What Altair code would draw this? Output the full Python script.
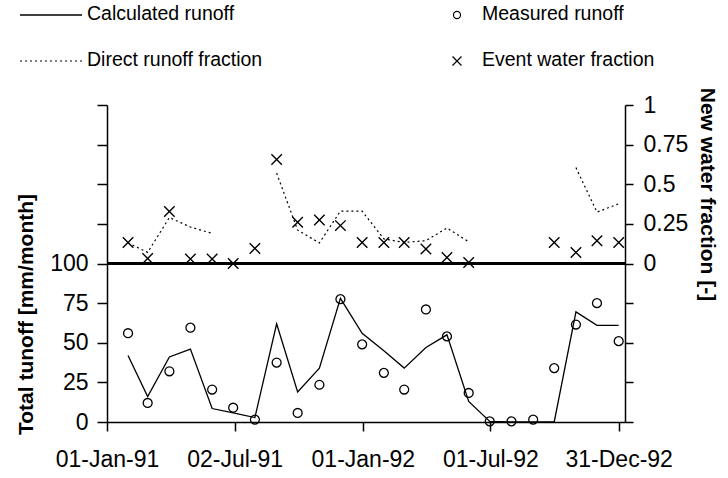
import altair as alt
import pandas as pd

# Month-end dates, Jan 1991 - Dec 1992
months = pd.date_range("1991-01-31", "1992-12-31", freq="ME").strftime("%Y-%m-%d").tolist()

# Total runoff [mm/month]
calculated_runoff = [42, 16, 41, 46, 8.5, 5.7, 2.8, 62, 19, 34, 78, 56,
                     45, 34, 47, 55, 13, 0.4, 0, 0, 0, 69.5, 61, 61]
measured_runoff = [56, 12, 32, 59.5, 20.5, 9, 1.5, 37.5, 5.7, 23.5, 77.5, 49,
                   31, 20.5, 71, 54, 18.3, 0.4, 0.4, 1.5, 34, 61.5, 75, 51]

# New water fractions [-]
direct_runoff_fraction = [0.13, 0.07, 0.29, 0.23, 0.19, None, None, 0.57, 0.21, 0.13, 0.33, 0.33,
                          0.155, 0.133, 0.144, 0.224, 0.137, None, None, None, None, 0.605, 0.324, 0.377]
event_water_fraction = [0.133, 0.032, 0.328, 0.028, 0.028, 0.0, 0.095, 0.656, 0.26, 0.275, 0.239, 0.133,
                        0.133, 0.133, 0.091, 0.038, 0.006, None, None, None, 0.133, 0.07, 0.144, 0.133]

x_ticks = [(1991, 1, 1), (1991, 7, 2), (1992, 1, 1), (1992, 7, 1), (1992, 12, 31)]
runoff_ticks = [0, 25, 50, 75, 100, 125, 150, 175, 200]
fraction_ticks = [-1, -0.75, -0.5, -0.25, 0, 0.25, 0.5, 0.75, 1]

# split the direct runoff series into continuous runs so the line breaks at gaps
segments = []
seg, prev = 0, None
for v in direct_runoff_fraction:
    if v is not None and prev is None:
        seg += 1
    segments.append(seg if v is not None else None)
    prev = v

df = pd.DataFrame({
    "date": months,
    "calc": calculated_runoff,
    "meas": measured_runoff,
    "direct": direct_runoff_fraction,
    "event": event_water_fraction,
    "seg": segments,
})

FONT = "Liberation Sans"
CROSS = "M-1,-1L1,1M-1,1L1,-1"

x_enc = alt.X(
    "date:T",
    scale=alt.Scale(type="utc",
                    domain=[alt.DateTime(year=1991, month=1, date=1, utc=True),
                            alt.DateTime(year=1993, month=1, date=9, utc=True)]),
    axis=alt.Axis(
        title=None,
        values=[alt.DateTime(year=y, month=m, date=d, utc=True) for y, m, d in x_ticks],
        format="%d-%b-%y",
        tickSize=9,
        labelPadding=17,
        labelFontSize=23,
        labelFlush=False,
        labelOverlap=False,
    ),
)

runoff_scale = alt.Scale(domain=[0, 200], nice=False, zero=False)
left_axis = alt.Axis(
    title="Total tunoff [mm/month]",
    values=runoff_ticks,
    labelExpr="datum.value <= 100 ? datum.label : ''",
    labelOverlap=False,
    tickSize=10,
    labelPadding=9,
    titleAngle=-90,
    titleX=-81,
    titleY=209,
    titleAlign="center",
    titleBaseline="middle",
)

fraction_scale = alt.Scale(domain=[-1, 1], nice=False, zero=False)
right_axis = alt.Axis(
    title="New water fraction [-]",
    orient="right",
    values=fraction_ticks,
    labelExpr="datum.value >= 0 ? format(datum.value, '~g') : ''",
    labelOverlap=False,
    tickSize=8,
    labelPadding=10,
    titleAngle=90,
    titleX=81,
    titleY=89,
    titleAlign="center",
    titleBaseline="middle",
)

base = alt.Chart(df)

calc_line = base.mark_line(color="black", strokeWidth=1.3).encode(
    x=x_enc, y=alt.Y("calc:Q", scale=runoff_scale, axis=left_axis))
meas_pts = base.mark_point(shape="circle", size=80, filled=False, color="black",
                           strokeWidth=1.3, opacity=1).encode(
    x=x_enc, y=alt.Y("meas:Q", scale=runoff_scale, axis=left_axis))
zero_rule = base.mark_rule(color="black", strokeWidth=1.3).encode(
    y=alt.Y(datum=100, type="quantitative", scale=runoff_scale, axis=left_axis))

runoff = alt.layer(calc_line, meas_pts, zero_rule)

direct_line = base.transform_filter("datum.direct != null").mark_line(
    color="black", strokeWidth=1.2, strokeDash=[2, 3]
).encode(x=x_enc, y=alt.Y("direct:Q", scale=fraction_scale, axis=right_axis), detail="seg:N")
event_pts = base.transform_filter("datum.event != null").mark_point(
    shape=CROSS, size=110, filled=False, color="black", strokeWidth=1.4, opacity=1
).encode(x=x_enc, y=alt.Y("event:Q", scale=fraction_scale, axis=right_axis))

fraction = alt.layer(direct_line, event_pts)

# legend drawn above the plot area
one = alt.Data(values=[{"k": 1}])


def legend_text(label, x, y):
    return alt.Chart(one).mark_text(
        text=label, align="left", baseline="middle", font=FONT, fontSize=19.5, color="black"
    ).encode(x=alt.value(x), y=alt.value(y))


leg_calc = alt.Chart(one).mark_rule(color="black", strokeWidth=1.3).encode(
    x=alt.value(-87), x2=alt.value(-25), y=alt.value(-90))
leg_direct = alt.Chart(one).mark_rule(color="black", strokeWidth=1.2, strokeDash=[2, 3]).encode(
    x=alt.value(-87), x2=alt.value(-25), y=alt.value(-44))
leg_meas = alt.Chart(one).mark_point(shape="circle", size=50, filled=False, color="black",
                                     strokeWidth=1.2, opacity=1).encode(
    x=alt.value(350), y=alt.value(-90))
leg_event = alt.Chart(one).mark_point(shape=CROSS, size=80, filled=False, color="black",
                                      strokeWidth=1.2, opacity=1).encode(
    x=alt.value(350), y=alt.value(-44))

legend = alt.layer(
    leg_calc, leg_direct, leg_meas, leg_event,
    legend_text("Calculated runoff", -20, -91),
    legend_text("Direct runoff fraction", -20, -45),
    legend_text("Measured runoff", 375, -91),
    legend_text("Event water fraction", 375, -45),
)

chart = alt.layer(runoff, fraction, legend).resolve_scale(y="independent").properties(
    width=518,
    height=317,
    autosize=alt.AutoSizeParams(type="none"),
    padding={"left": 107, "top": 105, "right": 103, "bottom": 56},
).configure_view(strokeWidth=0).configure_axis(
    grid=False,
    domainColor="black",
    domainWidth=1.5,
    tickColor="black",
    tickWidth=1.5,
    labelFont=FONT,
    labelFontSize=23,
    labelColor="black",
    titleFont=FONT,
    titleFontSize=21,
    titleFontWeight="bold",
    titleColor="black",
)

chart.save("out.html", embed_options={"renderer": "svg", "actions": False})
